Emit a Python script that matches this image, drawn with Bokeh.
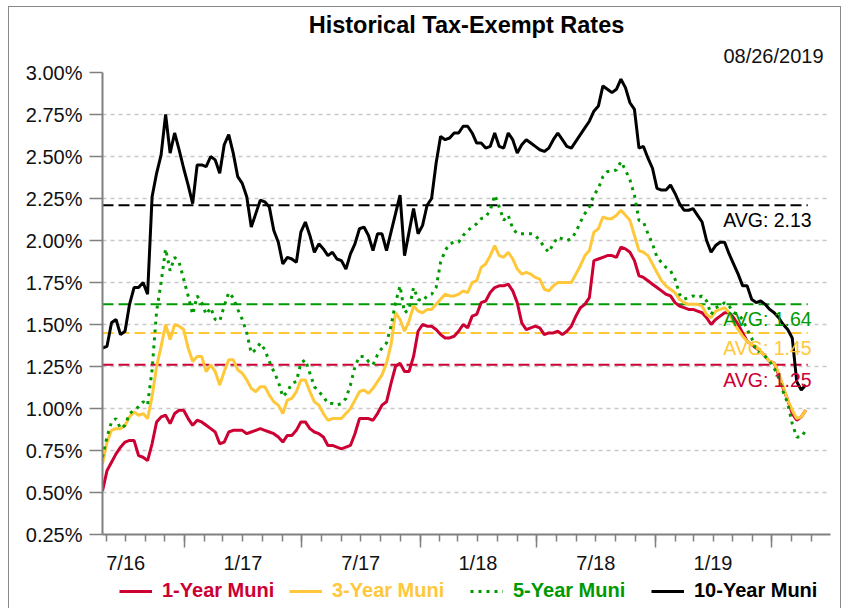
import pandas as pd
from bokeh.plotting import figure
from bokeh.layouts import column
from bokeh.models import (Range1d, LinearAxis, FixedTicker, PrintfTickFormatter,
                          Legend, LegendItem, Label, Title, ColumnDataSource)
from bokeh.embed import file_html
from bokeh.resources import INLINE

# ---------------- data (weekly readings, percent) ----------------
dates = pd.date_range("2016-08-26", periods=157, freq="7D")

one_year = [
    0.51, 0.63, 0.68, 0.73, 0.77, 0.80, 0.81, 0.81, 0.72, 0.71, 0.69, 0.79, 0.92, 0.95, 0.96, 0.91,
    0.97, 0.99, 0.99, 0.94, 0.90, 0.93, 0.92, 0.90, 0.88, 0.86, 0.79, 0.80, 0.86, 0.87, 0.87, 0.87,
    0.85, 0.86, 0.87, 0.88, 0.87, 0.86, 0.85, 0.83, 0.80, 0.84, 0.84, 0.87, 0.92, 0.92, 0.88, 0.86,
    0.85, 0.83, 0.78, 0.78, 0.77, 0.76, 0.77, 0.78, 0.85, 0.94, 0.94, 0.94, 0.93, 0.97, 1.02, 1.04,
    1.15, 1.25, 1.27, 1.22, 1.22, 1.31, 1.46, 1.50, 1.49, 1.49, 1.47, 1.44, 1.42, 1.42, 1.43, 1.46,
    1.50, 1.48, 1.55, 1.56, 1.63, 1.64, 1.69, 1.72, 1.73, 1.73, 1.74, 1.70, 1.63, 1.51, 1.47, 1.48,
    1.49, 1.48, 1.44, 1.45, 1.45, 1.46, 1.44, 1.46, 1.49, 1.55, 1.60, 1.62, 1.66, 1.88, 1.89, 1.90,
    1.91, 1.91, 1.90, 1.96, 1.95, 1.93, 1.88, 1.79, 1.78, 1.76, 1.74, 1.72, 1.70, 1.68, 1.67, 1.63,
    1.61, 1.60, 1.59, 1.59, 1.58, 1.57, 1.54, 1.50, 1.53, 1.55, 1.57, 1.57, 1.54, 1.50, 1.45, 1.40,
    1.38, 1.36, 1.34, 1.31, 1.28, 1.27, 1.20, 1.12, 1.05, 0.97, 0.93, 0.95, 0.99]

three_year = [
    0.67, 0.80, 0.87, 0.88, 0.88, 0.90, 0.95, 0.98, 0.96, 0.97, 0.94, 1.07, 1.25, 1.37, 1.50, 1.41,
    1.50, 1.49, 1.47, 1.36, 1.28, 1.31, 1.31, 1.22, 1.26, 1.22, 1.14, 1.22, 1.29, 1.29, 1.23, 1.21,
    1.17, 1.12, 1.10, 1.13, 1.13, 1.08, 1.04, 1.02, 0.97, 1.05, 1.06, 1.10, 1.17, 1.17, 1.10, 1.04,
    1.02, 0.97, 0.93, 0.94, 0.94, 0.94, 0.97, 1.00, 1.05, 1.10, 1.11, 1.09, 1.12, 1.16, 1.20, 1.27,
    1.38, 1.57, 1.53, 1.46, 1.52, 1.61, 1.58, 1.57, 1.59, 1.59, 1.62, 1.65, 1.68, 1.67, 1.67, 1.68,
    1.70, 1.69, 1.75, 1.76, 1.84, 1.86, 1.91, 1.97, 1.91, 1.90, 1.93, 1.89, 1.83, 1.80, 1.81, 1.80,
    1.78, 1.77, 1.71, 1.70, 1.73, 1.75, 1.75, 1.75, 1.75, 1.80, 1.85, 1.91, 1.94, 2.05, 2.07, 2.14,
    2.13, 2.13, 2.15, 2.18, 2.15, 2.12, 2.03, 1.94, 1.93, 1.91, 1.86, 1.81, 1.76, 1.73, 1.71, 1.69,
    1.65, 1.63, 1.62, 1.62, 1.62, 1.61, 1.56, 1.54, 1.58, 1.59, 1.60, 1.57, 1.51, 1.47, 1.43, 1.40,
    1.38, 1.37, 1.34, 1.31, 1.28, 1.27, 1.21, 1.13, 1.05, 0.99, 0.94, 0.95, 0.99]

five_year = [
    0.71, 0.83, 0.92, 0.94, 0.88, 0.90, 0.97, 0.99, 1.01, 1.04, 1.02, 1.23, 1.58, 1.75, 1.95, 1.82,
    1.90, 1.87, 1.77, 1.67, 1.56, 1.67, 1.63, 1.56, 1.60, 1.53, 1.52, 1.61, 1.69, 1.66, 1.59, 1.53,
    1.45, 1.33, 1.35, 1.39, 1.35, 1.28, 1.22, 1.16, 1.07, 1.10, 1.15, 1.16, 1.27, 1.29, 1.21, 1.13,
    1.10, 1.07, 1.03, 1.03, 1.02, 1.03, 1.06, 1.14, 1.25, 1.31, 1.31, 1.28, 1.26, 1.32, 1.36, 1.39,
    1.49, 1.63, 1.73, 1.57, 1.59, 1.72, 1.65, 1.64, 1.67, 1.68, 1.72, 1.87, 1.94, 1.98, 1.99, 1.99,
    2.03, 2.06, 2.08, 2.10, 2.13, 2.14, 2.18, 2.27, 2.20, 2.12, 2.15, 2.07, 2.04, 2.04, 2.04, 2.04,
    2.03, 2.00, 1.96, 1.93, 1.98, 2.02, 2.01, 2.00, 2.01, 2.05, 2.11, 2.16, 2.20, 2.27, 2.31, 2.38,
    2.41, 2.41, 2.42, 2.47, 2.42, 2.36, 2.27, 2.12, 2.11, 2.04, 1.98, 1.90, 1.87, 1.84, 1.82, 1.77,
    1.68, 1.65, 1.66, 1.67, 1.66, 1.67, 1.64, 1.56, 1.60, 1.61, 1.63, 1.61, 1.57, 1.56, 1.53, 1.47,
    1.42, 1.34, 1.33, 1.31, 1.28, 1.24, 1.18, 1.10, 1.03, 0.91, 0.83, 0.83, 0.87]

ten_year = [
    1.36, 1.37, 1.51, 1.53, 1.44, 1.46, 1.62, 1.72, 1.72, 1.75, 1.68, 2.26, 2.40, 2.51, 2.75, 2.52,
    2.64, 2.54, 2.43, 2.33, 2.22, 2.45, 2.45, 2.44, 2.50, 2.48, 2.40, 2.57, 2.63, 2.52, 2.38, 2.34,
    2.26, 2.08, 2.16, 2.24, 2.23, 2.20, 2.06, 1.99, 1.86, 1.90, 1.89, 1.87, 2.05, 2.11, 2.03, 1.93,
    1.98, 1.95, 1.91, 1.93, 1.89, 1.88, 1.83, 1.92, 1.98, 2.07, 2.08, 2.03, 1.94, 2.04, 2.04, 1.94,
    2.05, 2.16, 2.27, 1.91, 2.05, 2.19, 2.04, 2.09, 2.21, 2.25, 2.46, 2.62, 2.60, 2.61, 2.64, 2.64,
    2.68, 2.68, 2.64, 2.58, 2.58, 2.55, 2.56, 2.64, 2.56, 2.55, 2.64, 2.60, 2.52, 2.57, 2.60, 2.58,
    2.56, 2.54, 2.53, 2.55, 2.60, 2.64, 2.60, 2.56, 2.55, 2.59, 2.63, 2.67, 2.71, 2.77, 2.80, 2.92,
    2.90, 2.88, 2.90, 2.96, 2.91, 2.82, 2.78, 2.55, 2.56, 2.49, 2.43, 2.31, 2.30, 2.30, 2.33, 2.28,
    2.22, 2.18, 2.18, 2.19, 2.15, 2.11, 2.00, 1.93, 1.97, 1.99, 1.99, 1.92, 1.86, 1.80, 1.73, 1.73,
    1.65, 1.63, 1.64, 1.62, 1.59, 1.57, 1.54, 1.50, 1.47, 1.42, 1.16, 1.11, 1.14]

series_names = ["1-Year Muni", "3-Year Muni", "5-Year Muni", "10-Year Muni"]
avg_levels = [1.26, 1.45, 1.62, 2.21]
avg_labels = ["AVG: 1.25", "AVG: 1.45", "AVG: 1.64", "AVG: 2.13"]
avg_end = "2019-08-26"

y_ticks = [0.25, 0.50, 0.75, 1.00, 1.25, 1.50, 1.75, 2.00, 2.25, 2.50, 2.75, 3.00]
x_half_years = ["2017-01-01", "2017-07-01", "2018-01-01", "2018-07-01", "2019-01-01", "2019-07-01"]
x_months = pd.date_range("2016-09-01", "2019-09-01", freq="MS")
x_label_pos = ["2016-10-01", "2017-04-01", "2017-10-01", "2018-04-01", "2018-10-01", "2019-04-01"]
x_labels = ["7/16", "1/17", "7/17", "1/18", "7/18", "1/19"]
title_text = "Historical Tax-Exempt Rates"
as_of = "08/26/2019"

# ---------------- styling ----------------
RED, YELLOW, GREEN, BLACK = "#CC0033", "#FFC83A", "#009A00", "#000000"
colors = [RED, YELLOW, GREEN, BLACK]
dashes = ["solid", "solid", "3 5", "solid"]
FONT = "Liberation Sans"
AXIS_GRAY = "#808080"
BORDER = "1px solid #8a8a8a"
FW, FH = 728, 462
BL, BR = 93, 10


def ms(d):
    return int(pd.Timestamp(d).value // 10**6)


x_start = ms(dates[0])
x_end = x_start + int(1130.4 * 86400000)

p = figure(frame_width=FW, frame_height=FH, output_backend="svg", toolbar_location=None,
           x_range=Range1d(x_start, x_end), y_range=Range1d(0.25, 3.0),
           min_border_left=BL, min_border_right=BR, min_border_top=65, min_border_bottom=36)
p.outline_line_color = None
p.background_fill_color = "white"
p.border_fill_color = "white"
p.xgrid.visible = False

# y axis
yax = p.yaxis[0]
yax.ticker = FixedTicker(ticks=y_ticks)
yax.formatter = PrintfTickFormatter(format="%.2f%%")
yax.major_tick_out = 13
yax.major_tick_in = 0
yax.minor_tick_out = 0
yax.minor_tick_in = 0
yax.axis_line_color = AXIS_GRAY
yax.axis_line_width = 2
yax.major_tick_line_color = AXIS_GRAY
yax.major_tick_line_width = 1.5
yax.major_label_text_font = FONT
yax.major_label_text_font_size = "20px"
yax.major_label_text_color = "#111111"
yax.major_label_standoff = 7

p.ygrid.ticker = FixedTicker(ticks=y_ticks)
p.ygrid.grid_line_color = "#C8C8C8"
p.ygrid.grid_line_dash = "4 4"
p.ygrid.grid_line_width = 1.5

# x axis: ticks only
xax = p.xaxis[0]
xax.ticker = FixedTicker(ticks=[ms(d) for d in x_half_years], minor_ticks=[ms(d) for d in x_months])
xax.major_tick_out = 13
xax.major_tick_in = 0
xax.minor_tick_out = 7
xax.minor_tick_in = 0
xax.axis_line_color = AXIS_GRAY
xax.axis_line_width = 2
xax.major_tick_line_color = AXIS_GRAY
xax.major_tick_line_width = 1.5
xax.minor_tick_line_color = AXIS_GRAY
xax.minor_tick_line_width = 1.5
xax.major_label_text_font_size = "1px"
xax.major_label_text_alpha = 0
xax.major_label_standoff = 0

# x axis: labels centred in each half year
lab_ticks = [ms(d) for d in x_label_pos]
xlab = LinearAxis(ticker=FixedTicker(ticks=lab_ticks),
                  major_label_overrides={t: s for t, s in zip(lab_ticks, x_labels)},
                  axis_line_color=None, major_tick_line_color=None, minor_tick_line_color=None,
                  major_tick_out=0, major_tick_in=0, minor_tick_out=0, minor_tick_in=0,
                  major_label_standoff=4, major_label_text_font=FONT,
                  major_label_text_font_size="20px", major_label_text_color="#111111")
p.add_layout(xlab, "below")

# average lines (below the series)
avg_src = ColumnDataSource(dict(x0=[dates[0]] * 4, x1=[pd.Timestamp(avg_end)] * 4,
                                y=avg_levels, color=colors))
p.segment(x0="x0", y0="y", x1="x1", y1="y", source=avg_src, line_color="color",
          line_width=2, line_dash="11 5")

# series
src = ColumnDataSource(dict(date=dates, one=one_year, three=three_year,
                            five=five_year, ten=ten_year))
cols = ["one", "three", "five", "ten"]
for c, col, dsh in zip(cols, colors, dashes):
    p.line("date", c, source=src, line_color=col, line_width=3, line_dash=dsh)

# average labels
for lvl, txt, col in zip(avg_levels, avg_labels, colors):
    p.add_layout(Label(x=ms(avg_end), y=lvl, text=txt, text_align="right", text_baseline="top",
                       x_offset=4, y_offset=-4, text_font=FONT, text_font_size="19.5px",
                       text_color=col))

# titles (the first added sits closest to the plot)
p.add_layout(Title(text=as_of, align="right", offset=7, standoff=12, text_font=FONT,
                   text_font_size="20px", text_font_style="normal", text_color="#111111"), "above")
p.add_layout(Title(text=title_text, align="center", standoff=-3, text_font=FONT,
                   text_font_size="23.5px", text_font_style="bold", text_color="#000000"), "above")

# ---------------- legend strip (one legend per series so each keeps its colour) ----------------
leg = figure(frame_width=FW, frame_height=32, output_backend="svg", toolbar_location=None,
             x_range=Range1d(0, 1), y_range=Range1d(0, 1),
             x_axis_location=None, y_axis_location=None,
             min_border_left=BL, min_border_right=BR, min_border_top=0, min_border_bottom=0)
leg.outline_line_color = None
leg.grid.visible = False
leg.background_fill_color = "white"
leg.border_fill_color = "white"
legend_x = [17, 187, 368, 549]
for name, col, dsh, lx in zip(series_names, colors, dashes, legend_x):
    r = leg.line(x=[float("nan")], y=[float("nan")], line_color=col, line_width=3, line_dash=dsh)
    lg = Legend(items=[LegendItem(label=name, renderers=[r])], location=(lx, 6),
                orientation="horizontal", border_line_color=None, background_fill_alpha=0,
                label_text_color=col, label_text_font=FONT, label_text_font_style="bold",
                label_text_font_size="20px", glyph_width=33, glyph_height=20,
                label_standoff=10, padding=0, margin=0, spacing=0)
    leg.add_layout(lg, "center")

layout = column(p, leg, spacing=0,
                styles={"margin-left": "8px", "margin-top": "6px",
                        "border-left": BORDER, "border-right": BORDER, "border-top": BORDER})

open("out.html", "w").write(file_html(layout, INLINE))
